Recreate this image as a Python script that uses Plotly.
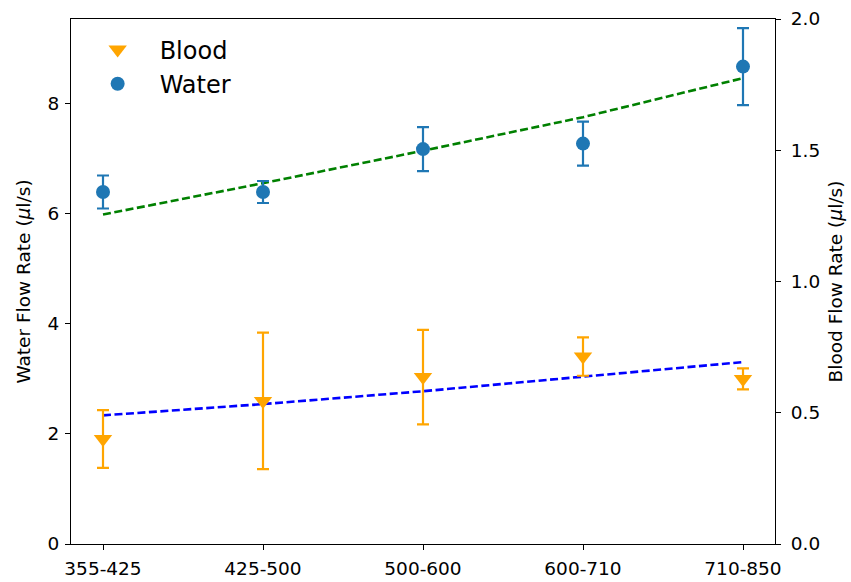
import plotly.graph_objects as go

categories = ["355-425", "425-500", "500-600", "600-710", "710-850"]

water_mean = [6.4, 6.4, 7.18, 7.28, 8.68]
water_err = [0.3, 0.2, 0.4, 0.4, 0.7]
water_fit = [5.99, 6.56, 7.15, 7.76, 8.47]

blood_mean = [0.40, 0.545, 0.636, 0.714, 0.629]
blood_err = [0.11, 0.26, 0.18, 0.073, 0.04]
blood_fit = [0.49, 0.533, 0.582, 0.637, 0.693]

left_ticks = [0, 2, 4, 6, 8]
right_ticks = [0.0, 0.5, 1.0, 1.5, 2.0]

FONT = "DejaVu Sans"
FS = 18.5
fig = go.Figure()

fig.add_trace(go.Scatter(
    x=categories, y=water_fit, mode="lines", yaxis="y",
    line=dict(color="green", width=2.6, dash="8px,3.5px"), showlegend=False))
fig.add_trace(go.Scatter(
    x=categories, y=water_mean, mode="markers", name="Water", yaxis="y",
    marker=dict(color="#1f77b4", size=14, symbol="circle"),
    error_y=dict(type="data", array=water_err, color="#1f77b4", thickness=2.2, width=6),
    legendrank=2))

fig.add_trace(go.Scatter(
    x=categories, y=blood_fit, mode="lines", yaxis="y2",
    line=dict(color="blue", width=2.6, dash="8px,3.5px"), showlegend=False))
fig.add_trace(go.Scatter(
    x=categories, y=blood_mean, mode="markers", name="Blood", yaxis="y2",
    marker=dict(color="orange", size=16, symbol="triangle-down"),
    error_y=dict(type="data", array=blood_err, color="orange", thickness=2.2, width=6),
    legendrank=1))

axis_common = dict(showline=True, linecolor="black", linewidth=1.2, ticks="outside",
                   ticklen=5, tickwidth=1.2, tickcolor="black", showgrid=False,
                   zeroline=False, automargin=False,
                   tickfont=dict(family=FONT, size=FS, color="black"))

fig.update_layout(
    width=851, height=582,
    margin=dict(l=71, r=76, t=19, b=38),
    paper_bgcolor="white", plot_bgcolor="white",
    font=dict(family=FONT, size=FS, color="black"),
    xaxis=dict(**axis_common, mirror=True, type="category", range=[-0.2, 4.2],
               ticklabelstandoff=3),
    yaxis=dict(**axis_common, range=[0, 9.545], tickvals=left_ticks, ticklabelstandoff=2,
               title=dict(text="Water Flow Rate (<i>μ</i>l/s)", font=dict(family=FONT, size=FS),
                          standoff=11)),
    yaxis2=dict(**axis_common, overlaying="y", side="right", range=[0, 2.0],
                tickvals=right_ticks, tickformat=".1f", ticklabelstandoff=6,
                title=dict(text="Blood Flow Rate (<i>μ</i>l/s)", font=dict(family=FONT, size=FS),
                           standoff=9)),
    legend=dict(x=0.0066, y=0.984, xanchor="left", yanchor="top",
                font=dict(family=FONT, size=24), bgcolor="rgba(0,0,0,0)",
                itemsizing="trace", itemwidth=74),
)

fig.write_html("out.html")
